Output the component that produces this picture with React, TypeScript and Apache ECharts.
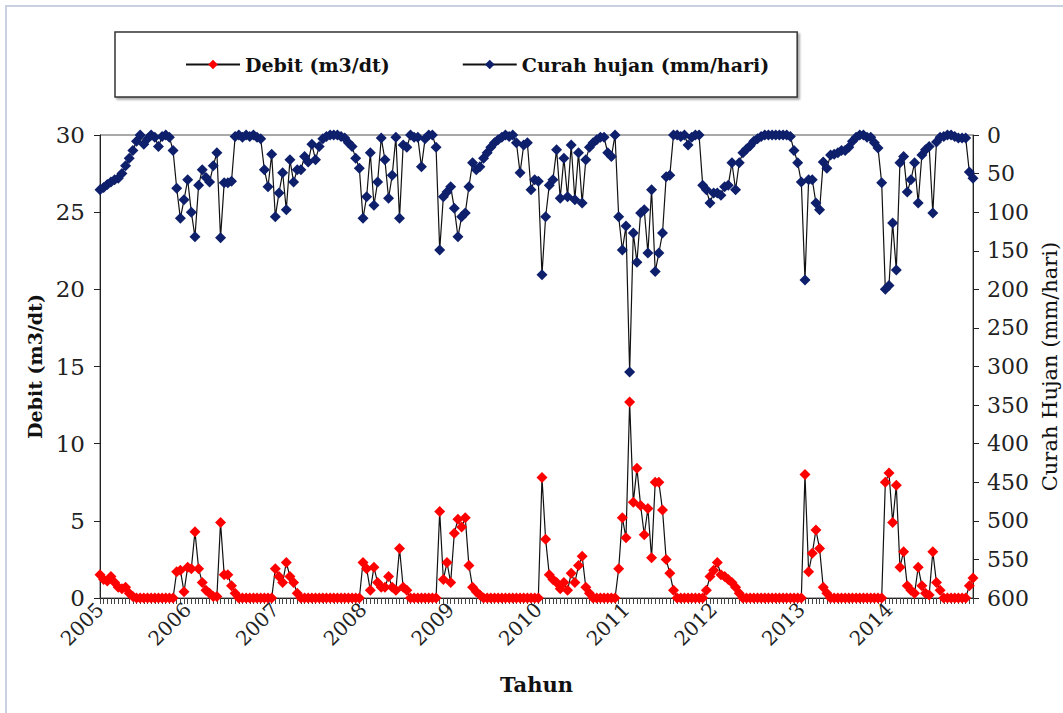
import React, { useEffect, useRef } from "react";
import * as echarts from "echarts";

const years = [2005, 2006, 2007, 2008, 2009, 2010, 2011, 2012, 2013, 2014];
const PER_YEAR = 24; // half-monthly values

// Curah hujan (mm/hari), 24 values per year
const rain2005 = [71, 68, 64, 61, 58, 56, 50, 40, 30, 20, 8, 0, 12, 5, 0, 3, 15, 2, 0, 3, 20, 69, 108, 84];
const rain2006 = [58, 100, 132, 65, 45, 55, 61, 40, 23, 133, 62, 62, 60, 2, 0, 3, 0, 2, 0, 3, 5, 45, 67, 25];
const rain2007 = [106, 75, 49, 97, 32, 61, 45, 45, 28, 35, 12, 32, 15, 5, 2, 0, 0, 0, 2, 4, 10, 15, 30, 43];
const rain2008 = [108, 80, 23, 91, 61, 4, 32, 82, 52, 3, 108, 13, 16, 0, 3, 3, 41, 5, 0, 0, 16, 149, 80, 74];
const rain2009 = [67, 95, 132, 106, 101, 67, 36, 45, 41, 30, 23, 16, 10, 6, 3, 0, 2, 0, 10, 49, 13, 10, 71, 58];
const rain2010 = [60, 181, 106, 65, 58, 19, 82, 30, 80, 13, 84, 23, 88, 32, 16, 10, 6, 3, 3, 23, 28, 0, 106, 149];
const rain2011 = [118, 307, 127, 165, 101, 97, 153, 71, 177, 153, 127, 54, 52, 0, 0, 2, 0, 13, 3, 0, 0, 65, 71, 88];
const rain2012 = [75, 75, 78, 67, 65, 36, 71, 36, 23, 18, 14, 8, 5, 2, 0, 0, 0, 0, 0, 0, 0, 2, 20, 36];
const rain2013 = [61, 188, 58, 58, 88, 97, 35, 43, 26, 25, 23, 20, 20, 16, 8, 3, 0, 0, 3, 3, 10, 17, 62, 200];
const rain2014 = [195, 114, 175, 36, 28, 74, 58, 36, 88, 26, 19, 15, 101, 9, 3, 2, 0, 0, 2, 4, 4, 4, 48, 56];

// Debit (m3/dt), 24 values per year
const deb2005 = [1.5, 1.2, 1.1, 1.4, 1.0, 0.7, 0.6, 0.7, 0.3, 0.1, 0, 0, 0, 0, 0, 0, 0, 0, 0, 0, 0, 1.7, 1.8, 0.4];
const deb2006 = [2.0, 1.9, 4.3, 1.9, 1.0, 0.5, 0.3, 0.1, 0.1, 4.9, 1.5, 1.5, 0.8, 0.3, 0, 0, 0, 0, 0, 0, 0, 0, 0, 0];
const deb2007 = [1.9, 1.4, 1.0, 2.3, 1.4, 1.0, 0.3, 0, 0, 0, 0, 0, 0, 0, 0, 0, 0, 0, 0, 0, 0, 0, 0, 0];
const deb2008 = [2.3, 1.9, 0.5, 2.0, 1.0, 0.7, 0.7, 1.4, 0.7, 0.5, 3.2, 0.7, 0.5, 0, 0, 0, 0, 0, 0, 0, 0, 5.6, 1.2, 2.3];
const deb2009 = [1.0, 4.2, 5.1, 4.6, 5.2, 2.1, 0.7, 0.4, 0.2, 0, 0, 0, 0, 0, 0, 0, 0, 0, 0, 0, 0, 0, 0, 0];
const deb2010 = [0, 7.8, 3.8, 1.5, 1.2, 1.0, 0.6, 1.0, 0.5, 1.6, 1.0, 2.1, 2.7, 0.7, 0.3, 0, 0, 0, 0, 0, 0, 0, 1.9, 5.2];
const deb2011 = [3.9, 12.7, 6.2, 8.4, 6.0, 4.1, 5.8, 2.6, 7.5, 7.5, 5.7, 2.5, 1.6, 0.5, 0, 0, 0, 0, 0, 0, 0, 0, 0.5, 1.4];
const deb2012 = [1.8, 2.3, 1.5, 1.4, 1.2, 1.0, 0.7, 0.3, 0, 0, 0, 0, 0, 0, 0, 0, 0, 0, 0, 0, 0, 0, 0, 0];
const deb2013 = [0, 8.0, 1.7, 2.9, 4.4, 3.2, 0.7, 0.3, 0, 0, 0, 0, 0, 0, 0, 0, 0, 0, 0, 0, 0, 0, 0, 7.5];
const deb2014 = [8.1, 4.9, 7.3, 2.0, 3.0, 0.8, 0.5, 0.3, 2.0, 0.8, 0.3, 0.2, 3.0, 1.0, 0.5, 0, 0, 0, 0, 0, 0, 0, 0.8, 1.3];

const rain = [rain2005, rain2006, rain2007, rain2008, rain2009, rain2010, rain2011, rain2012, rain2013, rain2014].flat();
const debit = [deb2005, deb2006, deb2007, deb2008, deb2009, deb2010, deb2011, deb2012, deb2013, deb2014].flat();
const categories = years.flatMap((y) => Array.from({ length: PER_YEAR }, (_, k) => `${y}-${k + 1}`));

const FONT = "DejaVu Serif";

export default function App() {
  const ref = useRef<HTMLDivElement>(null);
  useEffect(() => {
    if (!ref.current) return;
    const chart = echarts.init(ref.current, null, { renderer: "svg" });
    chart.setOption({
      animation: false,
      backgroundColor: "#ffffff",
      textStyle: { fontFamily: FONT },
      graphic: [
        {
          type: "rect",
          silent: true,
          shape: { x: 6, y: 6, width: 1200, height: 900 },
          style: { fill: "none", stroke: "#c9d0e0", lineWidth: 2 },
        },
      ],
      legend: {
        top: 32,
        left: 115,
        padding: [23, 28, 23, 70],
        itemGap: 72,
        itemWidth: 54,
        itemHeight: 12,
        borderColor: "#333",
        borderWidth: 1.5,
        backgroundColor: "#fff",
        shadowColor: "rgba(0,0,0,0.35)",
        shadowOffsetX: 2,
        shadowOffsetY: 2,
        shadowBlur: 2,
        textStyle: { fontFamily: FONT, fontWeight: "bold", fontSize: 19, color: "#111" },
        data: ["Debit (m3/dt)", "Curah hujan (mm/hari)"],
      },
      grid: {
        left: 100,
        right: 90,
        top: 135,
        bottom: 115,
        show: true,
        borderColor: "#555",
        borderWidth: 1,
        containLabel: false,
        outerBoundsMode: "none",
      },
      xAxis: {
        type: "category",
        data: categories,
        boundaryGap: false,
        name: "Tahun",
        nameLocation: "middle",
        nameGap: 76,
        nameTextStyle: { fontFamily: FONT, fontWeight: "bold", fontSize: 21, color: "#111" },
        axisLine: { lineStyle: { color: "#222", width: 1 } },
        axisTick: { show: true, interval: 0, length: 6, lineStyle: { color: "#444" } },
        axisLabel: {
          interval: PER_YEAR - 1,
          rotate: 45,
          formatter: (v: string) => v.split("-")[0],
          fontFamily: FONT,
          fontSize: 20,
          color: "#222",
          margin: 8,
        },
        splitLine: { show: false },
      },
      yAxis: [
        {
          type: "value",
          min: 0,
          max: 30,
          interval: 5,
          name: "Debit (m3/dt)",
          nameLocation: "middle",
          nameRotate: 90,
          nameGap: 51,
          nameTextStyle: { fontFamily: FONT, fontWeight: "bold", fontSize: 19, color: "#111" },
          axisLine: { show: true, lineStyle: { color: "#222" } },
          axisTick: { show: true, length: 6, lineStyle: { color: "#222" } },
          axisLabel: { fontFamily: FONT, fontSize: 23, color: "#222", margin: 15 },
          splitLine: { show: false },
        },
        {
          type: "value",
          min: 0,
          max: 600,
          interval: 50,
          inverse: true,
          position: "right",
          name: "Curah Hujan (mm/hari)",
          nameLocation: "middle",
          nameRotate: 90,
          nameGap: 63,
          nameTextStyle: { fontFamily: FONT, fontSize: 21, color: "#111" },
          axisLine: { show: true, lineStyle: { color: "#222" } },
          axisTick: { show: true, length: 6, lineStyle: { color: "#222" } },
          axisLabel: { fontFamily: FONT, fontSize: 22, color: "#222", margin: 14 },
          splitLine: { show: false },
        },
      ],
      series: [
        {
          name: "Debit (m3/dt)",
          type: "line",
          data: debit,
          yAxisIndex: 0,
          symbol: "diamond",
          symbolSize: 11,
          showAllSymbol: true,
          itemStyle: { color: "#ff0000" },
          lineStyle: { color: "#111", width: 1.2 },
        },
        {
          name: "Curah hujan (mm/hari)",
          type: "line",
          data: rain,
          yAxisIndex: 1,
          symbol: "diamond",
          symbolSize: 11,
          showAllSymbol: true,
          itemStyle: { color: "#0e1f6b" },
          lineStyle: { color: "#111", width: 1.2 },
        },
      ],
    });
    return () => chart.dispose();
  }, []);
  return <div ref={ref} style={{ position: "fixed", left: 0, top: 0, width: 1063, height: 713 }} />;
}
